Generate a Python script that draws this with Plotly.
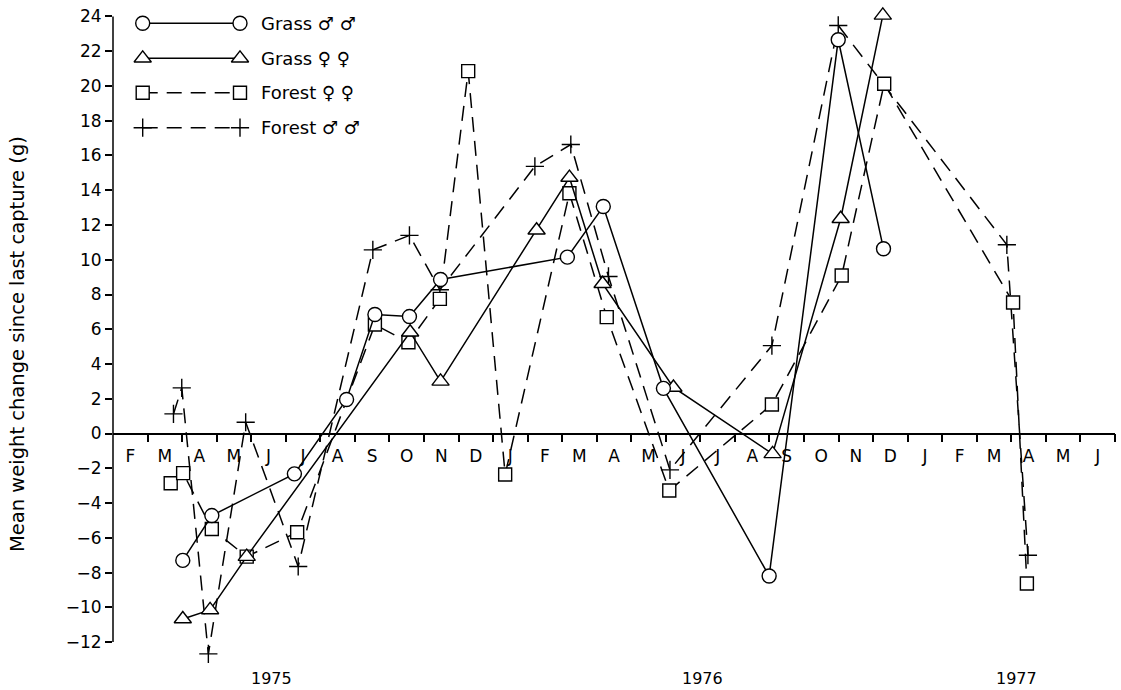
import plotly.graph_objects as go

# Time axis: months counted from 1 Jan 1975 (1 = start of Feb 1975, 30 = end of Jun 1977)
month_letters = ["F", "M", "A", "M", "J", "J", "A", "S", "O", "N", "D",
                 "J", "F", "M", "A", "M", "J", "J", "A", "S", "O", "N", "D",
                 "J", "F", "M", "A", "M", "J"]
month_start = 1
year_labels = ["1975", "1976", "1977"]
year_positions = [5.6, 18.05, 27.14]

# Mean weight change since last capture (g)
grass_m_x = [3.02, 3.86, 6.25, 7.76, 8.58, 9.58, 10.48, 14.15, 15.19, 16.93, 19.99, 21.99, 23.30]
grass_m_y = [-7.3, -4.72, -2.32, 1.96, 6.85, 6.73, 8.86, 10.15, 13.06, 2.6, -8.2, 22.66, 10.63]

grass_f_x = [3.02, 3.81, 4.87, 9.60, 10.48, 13.26, 14.21, 15.17, 17.22, 20.09, 22.06, 23.28]
grass_f_y = [-10.67, -10.15, -7.08, 5.83, 3.0, 11.7, 14.73, 8.62, 2.65, -1.17, 12.36, 24.06]

forest_f_x = [2.67, 3.03, 3.86, 4.87, 6.33, 8.58, 9.55, 10.46, 11.28, 12.35, 14.21, 15.29,
              17.10, 20.07, 22.09, 23.32, 27.05, 27.45]
forest_f_y = [-2.86, -2.28, -5.49, -7.08, -5.68, 6.27, 5.25, 7.75, 20.85, -2.36, 13.83, 6.7,
              -3.28, 1.67, 9.09, 20.13, 7.54, -8.63]

forest_m_x = [2.75, 2.99, 3.76, 4.84, 6.36, 8.52, 9.58, 10.46, 13.21, 14.25, 15.34, 17.12,
              20.07, 21.99, 26.87, 27.48]
forest_m_y = [1.13, 2.63, -12.68, 0.65, -7.65, 10.57, 11.4, 8.27, 15.37, 16.63, 9.04, -2.09,
              5.06, 23.48, 10.86, -7.0]

series_names = ["Grass \u2642 \u2642", "Grass \u2640 \u2640", "Forest \u2640 \u2640", "Forest \u2642 \u2642"]

y_ticks = list(range(-12, 25, 2))
y_view = [-12.8, 24.6]  # a little head-room so end markers are not cut

FONT = "DejaVu Sans, Liberation Sans, Arial, sans-serif"
INK = "black"
DASH = "15px,9px"

styles = {
    series_names[0]: dict(symbol="circle", size=14, dash="solid"),
    series_names[1]: dict(symbol="triangle-up", size=15, dash="solid"),
    series_names[2]: dict(symbol="square", size=13, dash=DASH),
    series_names[3]: dict(symbol="cross-thin", size=13, dash=DASH),
}

data = {
    series_names[0]: (grass_m_x, grass_m_y),
    series_names[1]: (grass_f_x, grass_f_y),
    series_names[2]: (forest_f_x, forest_f_y),
    series_names[3]: (forest_m_x, forest_m_y),
}


def marker_for(name):
    st = styles[name]
    return dict(symbol=st["symbol"], size=st["size"], color="white",
                line=dict(color=INK, width=1.4))


fig = go.Figure()

# Draw order: forest series underneath, grass series on top
for name in [series_names[3], series_names[2], series_names[1], series_names[0]]:
    xs, ys = data[name]
    fig.add_trace(go.Scatter(
        x=xs, y=ys, mode="lines+markers", name=name, showlegend=False,
        line=dict(color=INK, width=1.5, dash=styles[name]["dash"]),
        marker=marker_for(name), cliponaxis=False,
    ))

# Plot-area geometry in pixels
W, H = 1121, 690
M_L, M_R, M_T, M_B = 113, 6, 6, 34
px_left, px_right = M_L, W - M_R
px_top, px_bottom = M_T, H - M_B

# Key drawn in the top-left corner, on a pixel-scaled overlay axis pair
key_rows = [23.3, 58.3, 92.7, 127.7]
key_x0, key_x1, key_text_x = 142.7, 240.0, 259.0
for name, ky in zip(series_names, key_rows):
    fig.add_trace(go.Scatter(
        x=[key_x0, key_x1], y=[ky, ky], mode="lines+markers", showlegend=False,
        xaxis="x3", yaxis="y3", hoverinfo="skip",
        line=dict(color=INK, width=1.5, dash=styles[name]["dash"]),
        marker=marker_for(name), cliponaxis=False,
    ))
    fig.add_annotation(x=key_text_x, y=ky, xref="x3", yref="y3", text=name,
                       showarrow=False, xanchor="left", yanchor="middle",
                       font=dict(family=FONT, size=18, color=INK))

n_months = len(month_letters)
boundaries = [month_start + i for i in range(1, n_months + 1)]
centres = [month_start + i + 0.5 for i in range(n_months)]
x_range = [month_start, month_start + n_months]
zero_pos = (0 - y_view[0]) / (y_view[1] - y_view[0])

for label, xp in zip(year_labels, year_positions):
    fig.add_annotation(x=xp, y=(px_bottom - 678) / (px_bottom - px_top), xref="x", yref="paper",
                       text=label, showarrow=False, xanchor="center", yanchor="middle",
                       font=dict(family=FONT, size=16, color=INK))

fig.add_annotation(x=(17 - px_left) / (px_right - px_left),
                   y=(px_bottom - 344) / (px_bottom - px_top),
                   xref="paper", yref="paper",
                   text="Mean weight change since last capture (g)", textangle=-90,
                   showarrow=False, xanchor="center", yanchor="middle",
                   font=dict(family=FONT, size=19.5, color=INK))

# Vertical axis line spanning only the labelled range
fig.add_shape(type="line", xref="paper", yref="y", x0=0, x1=0,
              y0=y_ticks[0], y1=y_ticks[-1], line=dict(color=INK, width=1.5))

fig.update_layout(
    width=W, height=H,
    margin=dict(l=M_L, r=M_R, t=M_T, b=M_B),
    paper_bgcolor="white", plot_bgcolor="white",
    font=dict(family=FONT, size=16, color=INK),
    showlegend=False,
    xaxis=dict(range=x_range, anchor="free", position=zero_pos,
               showline=True, linecolor=INK, linewidth=1.5,
               tickvals=boundaries, ticks="outside", ticklen=8, tickwidth=1.5,
               tickcolor=INK, showticklabels=False, showgrid=False, zeroline=False),
    xaxis2=dict(range=x_range, overlaying="x", anchor="free", position=zero_pos,
                side="bottom", showline=False, tickvals=centres, ticktext=month_letters,
                ticks="outside", ticklen=7, tickcolor="rgba(0,0,0,0)",
                showgrid=False, zeroline=False,
                tickfont=dict(family=FONT, size=17, color=INK)),
    yaxis=dict(range=y_view, tickvals=y_ticks,
               showline=False, ticks="outside", ticklen=7, tickwidth=1.5, tickcolor=INK,
               showgrid=False, zeroline=False,
               tickfont=dict(family=FONT, size=17, color=INK)),
    xaxis3=dict(range=[px_left, px_right], overlaying="x", anchor="y3", visible=False),
    yaxis3=dict(range=[px_bottom, px_top], overlaying="y", anchor="x3", visible=False),
)

# an invisible point so the month-letter axis is rendered
fig.add_trace(go.Scatter(x=[centres[0]], y=[0], xaxis="x2", mode="markers",
                         marker=dict(opacity=0), showlegend=False, hoverinfo="skip"))

fig.write_html("out.html")
